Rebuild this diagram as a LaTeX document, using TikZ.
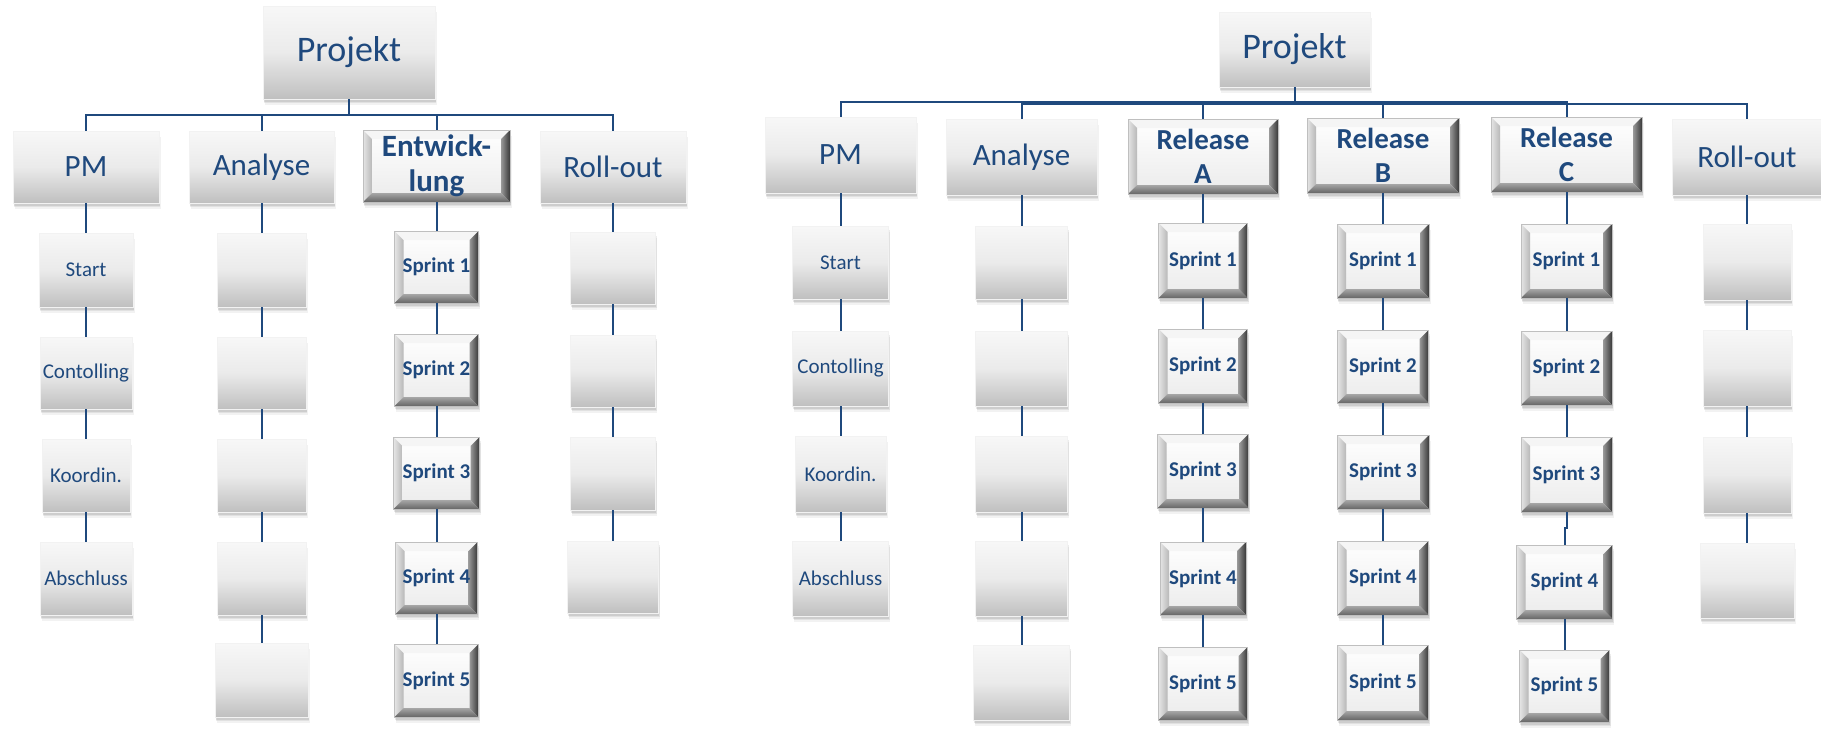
\documentclass[tikz,border=0pt]{standalone}
\usepackage{fontspec}
\setmainfont{Carlito}
\usetikzlibrary{shadows}
\definecolor{tblue}{HTML}{1F497D}
\definecolor{lblue}{HTML}{1F497D}
\newlength{\bvw}
\setlength{\bvw}{4.5pt}
\tikzset{
  wpx/.style={minimum width=#1*0.5pt},
  hpx/.style={minimum height=#1*0.5pt},
  basebox/.style={rectangle, inner sep=0pt, text=tblue, align=center,
    drop shadow={shadow xshift=0.9pt, shadow yshift=-3pt, opacity=0.05, fill=black},
    drop shadow={shadow xshift=0.6pt, shadow yshift=-2.2pt, opacity=0.07, fill=black},
    drop shadow={shadow xshift=0.3pt, shadow yshift=-1.4pt, opacity=0.09, fill=black}},
  plainbox/.style={basebox, draw=black!5, line width=0.3pt,
    top color=black!3, bottom color=black!25, middle color=black!8},
  bevelbox/.style={basebox, draw=black!25, line width=0.4pt,
    top color=white, bottom color=black!8,
    path picture={
      \coordinate (bvNW) at (path picture bounding box.north west);
      \coordinate (bvNE) at (path picture bounding box.north east);
      \coordinate (bvSW) at (path picture bounding box.south west);
      \coordinate (bvSE) at (path picture bounding box.south east);
      \coordinate (bvINW) at ([shift={(\bvw,-\bvw)}]bvNW);
      \coordinate (bvINE) at ([shift={(-\bvw,-\bvw)}]bvNE);
      \coordinate (bvISW) at ([shift={(\bvw,\bvw)}]bvSW);
      \coordinate (bvISE) at ([shift={(-\bvw,\bvw)}]bvSE);
      \fill[black!4] (bvNW) -- (bvNE) -- (bvINE) -- (bvINW) -- cycle;
      \shade[left color=black!10, right color=black!28] (bvNW) -- (bvINW) -- (bvISW) -- (bvSW) -- cycle;
      \shade[left color=black!40, right color=black!78] (bvNE) -- (bvSE) -- (bvISE) -- (bvINE) -- cycle;
      \shade[top color=black!35, bottom color=black!60] (bvSW) -- (bvISW) -- (bvISE) -- (bvSE) -- cycle;
    }},
  conn/.style={draw=lblue, line width=1pt},
  ftbig/.style={font=\fontsize{18}{21}\selectfont},
  ftmid/.style={font=\fontsize{15.5}{17.5}\selectfont},
  ftmidb/.style={font=\bfseries\fontsize{15.5}{17.5}\selectfont},
  ftrelb/.style={font=\bfseries\fontsize{14.5}{17}\selectfont},
  ftsm/.style={font=\fontsize{10.5}{12.5}\selectfont},
  ftsmb/.style={font=\bfseries\fontsize{10.5}{12.5}\selectfont},
}
\begin{document}
\begin{tikzpicture}[x=0.5pt,y=-0.5pt]
\useasboundingbox (0,0) rectangle (1821,729);

% ================= LEFT TREE =================
\node[plainbox,wpx=172,hpx=93,ftbig] (LP) at (349,52.5) {Projekt};
\node[plainbox,wpx=146,hpx=72,ftmid] (LPM) at (86,167) {PM};
\node[plainbox,wpx=145,hpx=72,ftmid] (LAn) at (261.5,167) {Analyse};
\node[bevelbox,wpx=147,hpx=72,ftmidb] (LEn) at (436.5,166) {Entwick-\\lung};
\node[plainbox,wpx=146,hpx=72,ftmid] (LRo) at (613,167) {Roll-out};

\node[plainbox,wpx=94,hpx=74,ftsm] (LS1) at (86,270) {Start};
\node[plainbox,wpx=92,hpx=72,ftsm] (LS2) at (86,373) {Contolling};
\node[plainbox,wpx=88,hpx=73,ftsm] (LS3) at (86,475.5) {Koordin.};
\node[plainbox,wpx=92,hpx=73,ftsm] (LS4) at (86,578.5) {Abschluss};

\node[plainbox,wpx=89,hpx=74] (LA1) at (261.5,270) {};
\node[plainbox,wpx=89,hpx=72] (LA2) at (261.5,373) {};
\node[plainbox,wpx=89,hpx=73] (LA3) at (261.5,475.5) {};
\node[plainbox,wpx=89,hpx=73] (LA4) at (261.5,578.5) {};
\node[plainbox,wpx=93,hpx=74] (LA5) at (261.5,680) {};

\node[bevelbox,wpx=84,hpx=72,ftsmb] (LE1) at (436.5,267) {Sprint 1};
\node[bevelbox,wpx=84,hpx=72,ftsmb] (LE2) at (436.5,370) {Sprint 2};
\node[bevelbox,wpx=86,hpx=72,ftsmb] (LE3) at (436.5,473) {Sprint 3};
\node[bevelbox,wpx=82,hpx=72,ftsmb] (LE4) at (436.5,578) {Sprint 4};
\node[bevelbox,wpx=84,hpx=73,ftsmb] (LE5) at (436.5,680.5) {Sprint 5};

\node[plainbox,wpx=85,hpx=72] (LR1) at (613,268) {};
\node[plainbox,wpx=85,hpx=72] (LR2) at (613,371) {};
\node[plainbox,wpx=85,hpx=73] (LR3) at (613,473.5) {};
\node[plainbox,wpx=91,hpx=72] (LR4) at (613,577) {};

\coordinate (Lbus) at (349,115);
\draw[conn] (LP) -- (Lbus);
\draw[conn] (LPM.north) |- (Lbus) -| (LRo.north);
\draw[conn] (LAn.north) -- (LAn.north |- Lbus);
\draw[conn] (LEn.north) -- (LEn.north |- Lbus);
\draw[conn] (LPM) -- (LS1) -- (LS2) -- (LS3) -- (LS4);
\draw[conn] (LAn) -- (LA1) -- (LA2) -- (LA3) -- (LA4) -- (LA5);
\draw[conn] (LEn) -- (LE1) -- (LE2) -- (LE3) -- (LE4) -- (LE5);
\draw[conn] (LRo) -- (LR1) -- (LR2) -- (LR3) -- (LR4);

% ================= RIGHT TREE =================
\node[plainbox,wpx=151,hpx=75,ftbig] (RP) at (1294.5,49.5) {Projekt};
\node[plainbox,wpx=151,hpx=76,ftmid] (RPM) at (840.5,155) {PM};
\node[plainbox,wpx=151,hpx=76,ftmid] (RAn) at (1021.5,157) {Analyse};
\node[bevelbox,wpx=150,hpx=75,ftrelb] (RRA) at (1203,156.5) {Release\\A};
\node[bevelbox,wpx=152,hpx=75,ftrelb] (RRB) at (1383,155.5) {Release\\B};
\node[bevelbox,wpx=151,hpx=75,ftrelb] (RRC) at (1566.5,154.5) {Release\\C};
\node[plainbox,wpx=150,hpx=76,ftmid] (RRo) at (1747,157) {Roll-out};

\node[plainbox,wpx=96,hpx=73,ftsm] (RS1) at (840.5,262.5) {Start};
\node[plainbox,wpx=96,hpx=75,ftsm] (RS2) at (840.5,368.5) {Contolling};
\node[plainbox,wpx=91,hpx=76,ftsm] (RS3) at (840.5,474) {Koordin.};
\node[plainbox,wpx=96,hpx=75,ftsm] (RS4) at (840.5,578.5) {Abschluss};

\node[plainbox,wpx=92,hpx=73] (RA1) at (1021.5,262.5) {};
\node[plainbox,wpx=92,hpx=75] (RA2) at (1021.5,368.5) {};
\node[plainbox,wpx=92,hpx=76] (RA3) at (1021.5,474) {};
\node[plainbox,wpx=92,hpx=75] (RA4) at (1021.5,578.5) {};
\node[plainbox,wpx=96,hpx=75] (RA5) at (1021.5,682.5) {};

\node[bevelbox,wpx=89,hpx=75,ftsmb] (RAS1) at (1203,260.5) {Sprint 1};
\node[bevelbox,wpx=89,hpx=74,ftsmb] (RAS2) at (1203,366) {Sprint 2};
\node[bevelbox,wpx=91,hpx=74,ftsmb] (RAS3) at (1203,471) {Sprint 3};
\node[bevelbox,wpx=86,hpx=73,ftsmb] (RAS4) at (1203,578.5) {Sprint 4};
\node[bevelbox,wpx=89,hpx=73,ftsmb] (RAS5) at (1203,683.5) {Sprint 5};

\node[bevelbox,wpx=92,hpx=74,ftsmb] (RBS1) at (1383,261) {Sprint 1};
\node[bevelbox,wpx=91,hpx=73,ftsmb] (RBS2) at (1383,366.5) {Sprint 2};
\node[bevelbox,wpx=92,hpx=74,ftsmb] (RBS3) at (1383,472) {Sprint 3};
\node[bevelbox,wpx=91,hpx=74,ftsmb] (RBS4) at (1383,578) {Sprint 4};
\node[bevelbox,wpx=91,hpx=75,ftsmb] (RBS5) at (1383,682.5) {Sprint 5};

\node[bevelbox,wpx=91,hpx=74,ftsmb] (RCS1) at (1566.5,261) {Sprint 1};
\node[bevelbox,wpx=91,hpx=74,ftsmb] (RCS2) at (1566.5,368) {Sprint 2};
\node[bevelbox,wpx=91,hpx=75,ftsmb] (RCS3) at (1566.5,474.5) {Sprint 3};
\node[bevelbox,wpx=96,hpx=74,ftsmb] (RCS4) at (1564.5,582) {Sprint 4};
\node[bevelbox,wpx=90,hpx=72,ftsmb] (RCS5) at (1564.5,686) {Sprint 5};

\node[plainbox,wpx=88,hpx=76] (RR1) at (1747,262) {};
\node[plainbox,wpx=88,hpx=76] (RR2) at (1747,368) {};
\node[plainbox,wpx=88,hpx=76] (RR3) at (1747,475) {};
\node[plainbox,wpx=94,hpx=75] (RR4) at (1747,580.5) {};

\coordinate (RbusA) at (1294.5,102);
\coordinate (RbusB) at (1294.5,104);
\draw[conn] (RP) -- (RbusA);
\draw[conn] (RPM.north) |- (RbusA) -| (RRC.north);
\draw[conn] (RAn.north) |- (RbusB) -| (RRo.north);
\draw[conn] (RRA.north) -- (RRA.north |- RbusB);
\draw[conn] (RRB.north) -- (RRB.north |- RbusB);

\draw[conn] (RPM) -- (RS1) -- (RS2) -- (RS3) -- (RS4);
\draw[conn] (RAn) -- (RA1) -- (RA2) -- (RA3) -- (RA4) -- (RA5);
\draw[conn] (RRA) -- (RAS1) -- (RAS2) -- (RAS3) -- (RAS4) -- (RAS5);
\draw[conn] (RRB) -- (RBS1) -- (RBS2) -- (RBS3) -- (RBS4) -- (RBS5);
\draw[conn] (RRC) -- (RCS1) -- (RCS2) -- (RCS3);
\draw[conn] (RCS3.south) -- ++(0,16) -| (RCS4.north);
\draw[conn] (RCS4) -- (RCS5);
\draw[conn] (RRo) -- (RR1) -- (RR2) -- (RR3) -- (RR4);
\end{tikzpicture}
\end{document}
